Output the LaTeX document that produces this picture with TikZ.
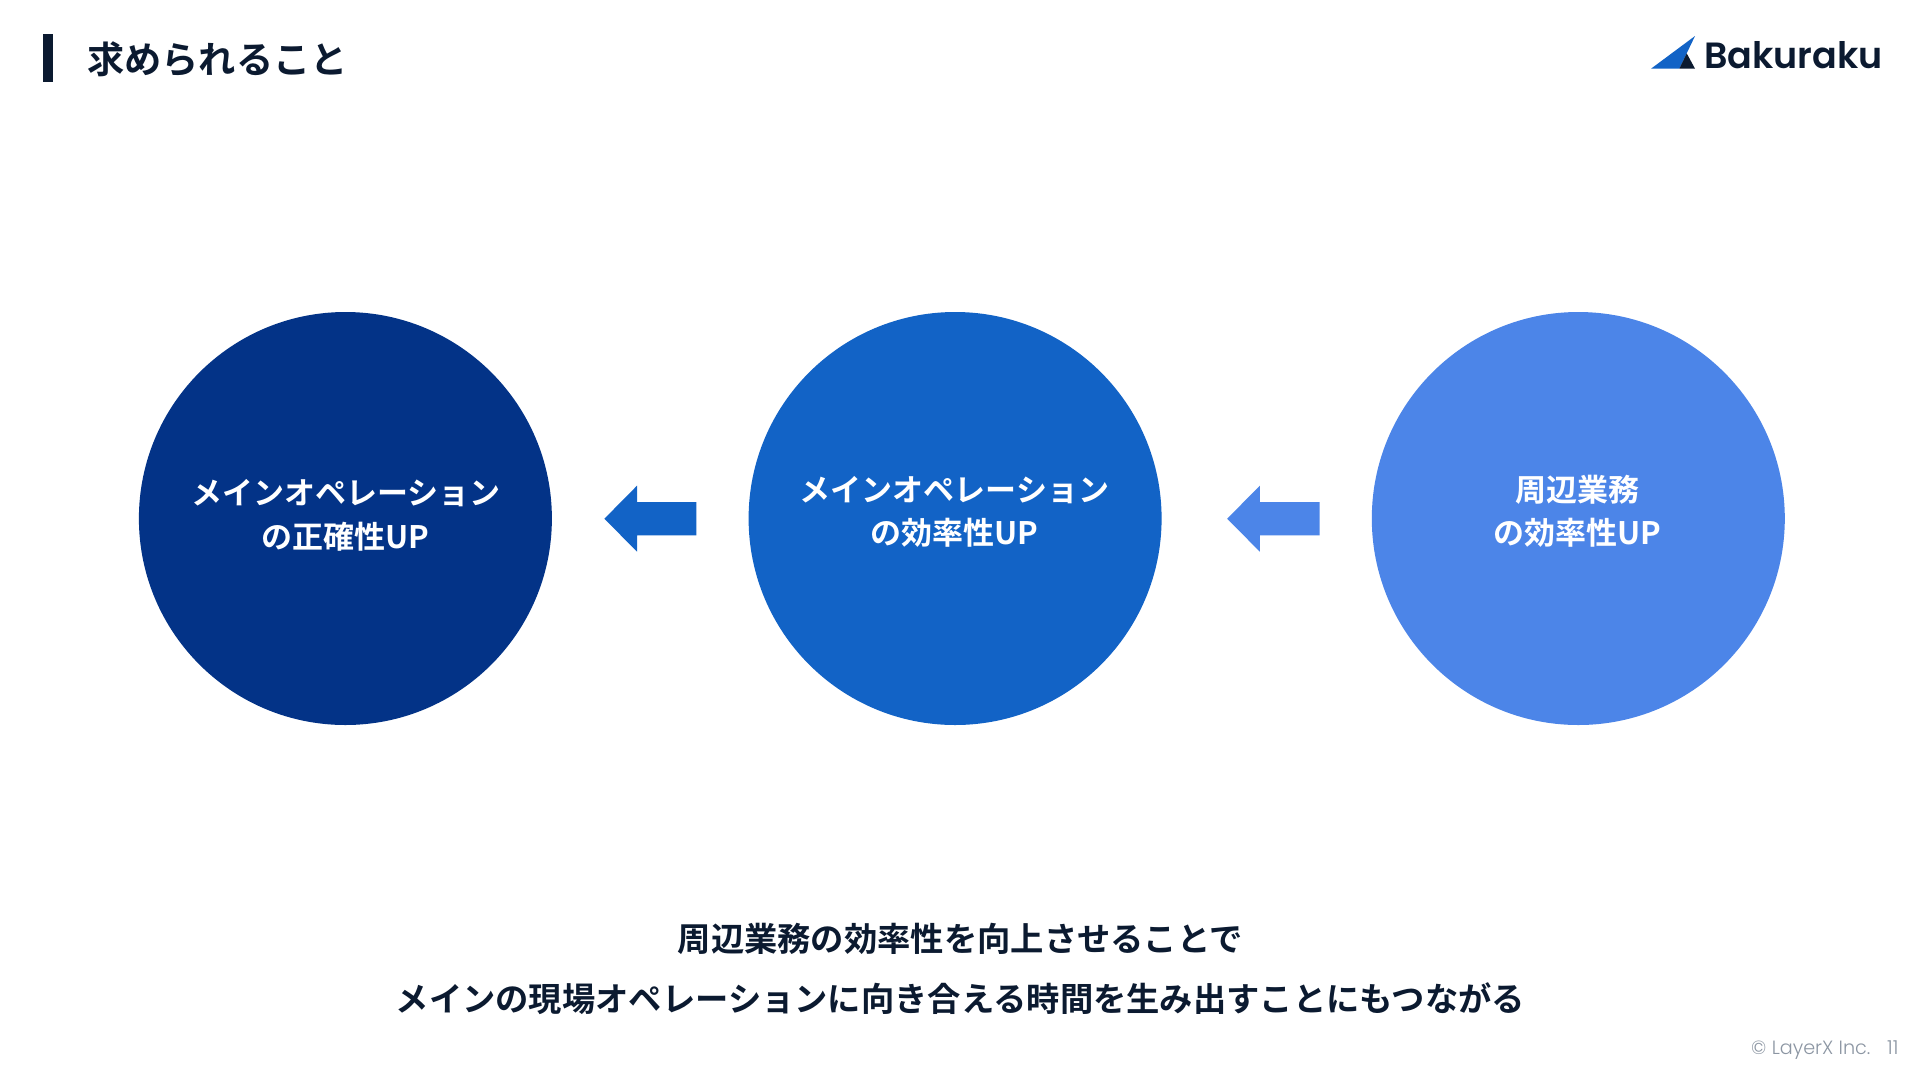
\documentclass[tikz,border=0pt]{standalone}
\usepackage{fontspec}
\setmainfont{Noto Sans CJK JP}[BoldFont={Noto Sans CJK JP Bold}]
\newfontfamily\cjkb{Noto Sans CJK JP Bold}
\newfontfamily\logofont{Poppins SemiBold}
\newfontfamily\footfont{Poppins Light}
\definecolor{ink}{HTML}{0B1A30}
\definecolor{deep}{HTML}{033387}
\definecolor{mid}{HTML}{1263C6}
\definecolor{soft}{HTML}{4C85E8}
\definecolor{footgrey}{HTML}{8C96A3}
\tikzset{
  disc/.style={circle,draw=none,minimum size=413pt,inner sep=0pt},
  disclabel/.style={text=white,align=center,font=\cjkb\fontsize{31}{43.6}\selectfont,inner sep=0pt},
  headline/.style={text=ink,font=\cjkb\fontsize{37.2}{44}\selectfont,inner sep=0pt,anchor=west},
  message/.style={text=ink,align=center,font=\cjkb\fontsize{33.3}{60}\selectfont,inner sep=0pt},
  foot/.style={text=footgrey,font=\footfont\fontsize{19.2}{20}\selectfont,inner sep=0pt,anchor=base west}
}
\begin{document}
\begin{tikzpicture}[x=1pt,y=-1pt]
\useasboundingbox (0,0) rectangle (1920,1080);
\fill[white] (0,0) rectangle (1920,1080);
% header
\fill[ink] (43,34) rectangle (53,82);
\node[headline] (title) at (87,59) {求められること};
% logo
\fill[mid] (1651,68.7) -- (1695,36) -- (1686.7,53.3) -- (1679.3,68.7) -- cycle;
\fill[ink] (1679.3,68.7) -- (1686.7,53.3) -- (1695,68.7) -- cycle;
\node[text=ink,font=\logofont\fontsize{36.5}{40}\selectfont,inner sep=0pt,anchor=base west] (logo) at (1704,68.7) {Bakuraku};
% circles
\node[disc,fill=deep] (c1) at (345.4,518.5) {};
\node[disc,fill=mid] (c2) at (955.1,518.5) {};
\node[disc,fill=soft] (c3) at (1578.3,518.5) {};
\node[disclabel] (l1) at (345.7,515.4) {メインオペレーション\\の正確性UP};
\node[disclabel] (l2) at (954.6,511.8) {メインオペレーション\\の効率性UP};
\node[disclabel] (l3) at (1577.2,511.4) {周辺業務\\の効率性UP};
% arrows
\fill[mid] (604.4,518.7) -- (637,485.7) -- (637,502) -- (696.3,502) -- (696.3,535.3) -- (637,535.3) -- (637,551.7) -- cycle;
\fill[soft] (1227.2,518.7) -- (1259.8,485.7) -- (1259.8,502) -- (1319.6,502) -- (1319.6,535.3) -- (1259.8,535.3) -- (1259.8,551.7) -- cycle;
% message
\node[message] (msg) at (960.3,968.8) {周辺業務の効率性を向上させることで\\メインの現場オペレーションに向き合える時間を生み出すことにもつながる};
% footer
\node[foot] (copy) at (1751,1054) {© LayerX Inc.};
\node[foot] (page) at (1887,1054) {11};
\end{tikzpicture}
\end{document}
